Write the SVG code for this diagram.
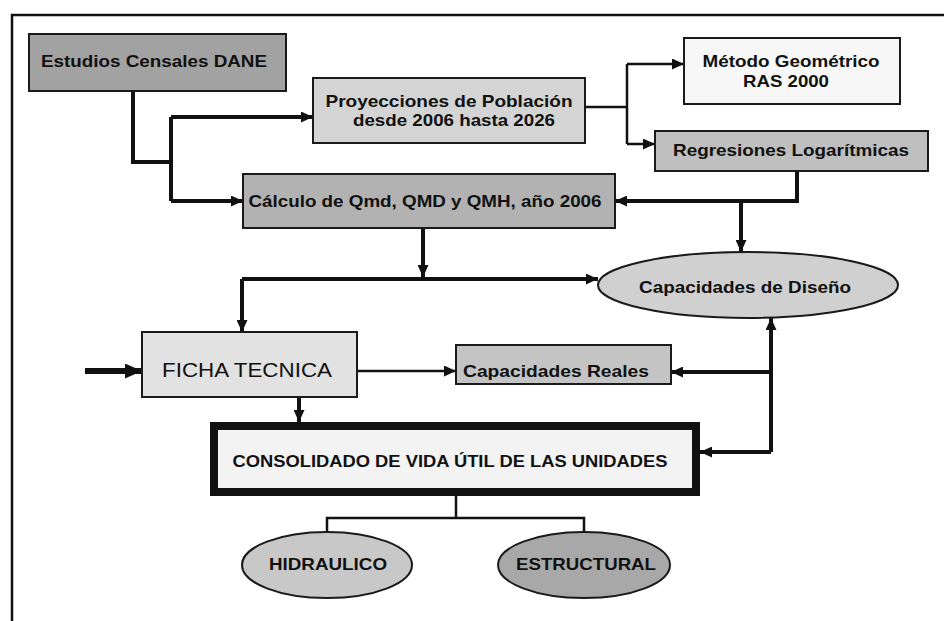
<svg xmlns="http://www.w3.org/2000/svg" width="944" height="621" viewBox="0 0 944 621">
<style>
.t{font-family:"Liberation Sans",Arial,sans-serif;font-weight:bold;font-size:16.5px;fill:#111;text-anchor:middle}
.b{stroke:#1a1a1a;stroke-width:2}
.c{fill:none;stroke:#111;stroke-linejoin:miter}
.w4{stroke-width:4}
.w2{stroke-width:2.5}
</style>
<defs>
<marker id="ah" viewBox="0 0 10 10" refX="10" refY="5" markerWidth="12" markerHeight="11" markerUnits="userSpaceOnUse" orient="auto" preserveAspectRatio="none"><path d="M0,0 L10,5 L0,10 Z" fill="#111"/></marker>
<marker id="ahb" viewBox="0 0 10 10" refX="10" refY="5" markerWidth="17" markerHeight="15" markerUnits="userSpaceOnUse" orient="auto" preserveAspectRatio="none"><path d="M0,0 L10,5 L0,10 Z" fill="#111"/></marker>
</defs>
<rect x="0" y="0" width="944" height="621" fill="#fff"/>
<rect x="12" y="15" width="1000" height="700" fill="none" stroke="#111" stroke-width="2.5"/>

<g id="connectors">
<path class="c w4" d="M133,91 V162 H171"/>
<path class="c w4" d="M171,117 V201"/>
<path class="c w4" d="M171,117 H313" marker-end="url(#ah)"/>
<path class="c w4" d="M171,201 H243" marker-end="url(#ah)"/>
<path class="c w2" d="M585,107 H627"/>
<path class="c w2" d="M627,64 V144"/>
<path class="c w2" d="M627,64 H684" marker-end="url(#ah)"/>
<path class="c w2" d="M627,144 H655" marker-end="url(#ah)"/>
<path class="c w4" d="M797,171 V201 H615" marker-end="url(#ah)"/>
<path class="c w4" d="M741,201 V252" marker-end="url(#ah)"/>
<path class="c w4" d="M423,228 V277" marker-end="url(#ah)"/>
<path class="c w4" d="M242,279 H598" marker-end="url(#ah)"/>
<path class="c w4" d="M242,279 V332" marker-end="url(#ah)"/>
<path class="c w2" d="M357,371 H456" marker-end="url(#ah)"/>
<path class="c" stroke-width="6" d="M85,371 H142" marker-end="url(#ahb)"/>
<path class="c w4" d="M299,397 V422" marker-end="url(#ah)"/>
<path class="c w4" d="M771,452 V318" marker-end="url(#ah)"/>
<path class="c w4" d="M771,372 H671" marker-end="url(#ah)"/>
<path class="c w4" d="M771,452 H700" marker-end="url(#ah)"/>
<path class="c w2" d="M456,496 V518 M327,532 V518 H584 V532"/>
</g>

<g id="dane">
<rect class="b" x="29" y="34" width="257" height="57" fill="#a2a2a2"/>
<text class="t" x="154" y="67" textLength="226" lengthAdjust="spacingAndGlyphs">Estudios Censales DANE</text>
</g>
<g id="proyecciones">
<rect class="b" x="313" y="78" width="272" height="65" fill="#d4d4d4"/>
<text class="t" x="449" y="107" textLength="247" lengthAdjust="spacingAndGlyphs">Proyecciones de Población</text>
<text class="t" x="454" y="126" textLength="202" lengthAdjust="spacingAndGlyphs">desde 2006 hasta 2026</text>
</g>
<g id="metodo">
<rect class="b" x="684" y="38" width="216" height="66" fill="#f7f7f7"/>
<text class="t" x="791" y="67" textLength="177" lengthAdjust="spacingAndGlyphs">Método Geométrico</text>
<text class="t" x="786" y="87" textLength="86" lengthAdjust="spacingAndGlyphs">RAS 2000</text>
</g>
<g id="regresiones">
<rect class="b" x="655" y="131" width="273" height="40" fill="#bfbfbf"/>
<text class="t" x="791" y="156" textLength="236" lengthAdjust="spacingAndGlyphs">Regresiones Logarítmicas</text>
</g>
<g id="calculo">
<rect class="b" x="243" y="174" width="372" height="54" fill="#b2b2b2"/>
<text class="t" x="425" y="207" textLength="353" lengthAdjust="spacingAndGlyphs">Cálculo de Qmd, QMD y QMH, año 2006</text>
</g>
<g id="capacidades-diseno">
<ellipse class="b" cx="748" cy="285" rx="150" ry="33" fill="#d0d0d0"/>
<text class="t" x="745" y="293" textLength="212" lengthAdjust="spacingAndGlyphs">Capacidades de Diseño</text>
</g>
<g id="ficha">
<rect class="b" x="142" y="332" width="215" height="65" fill="#e2e2e2"/>
<text class="t" x="247" y="377" style="font-weight:normal;font-size:20px" textLength="170" lengthAdjust="spacingAndGlyphs">FICHA TECNICA</text>
</g>
<g id="capacidades-reales">
<rect class="b" x="456" y="345" width="215" height="39" fill="#c4c4c4"/>
<text class="t" x="556" y="377" textLength="186" lengthAdjust="spacingAndGlyphs">Capacidades Reales</text>
</g>
<g id="consolidado">
<rect x="214" y="426" width="482" height="66" fill="#f3f3f3" stroke="#111" stroke-width="8"/>
<text class="t" x="450" y="467" textLength="435" lengthAdjust="spacingAndGlyphs">CONSOLIDADO DE VIDA ÚTIL DE LAS UNIDADES</text>
</g>
<g id="hidraulico">
<ellipse class="b" cx="327" cy="565" rx="85" ry="33" fill="#c8c8c8"/>
<text class="t" x="328" y="570" textLength="118" lengthAdjust="spacingAndGlyphs">HIDRAULICO</text>
</g>
<g id="estructural">
<ellipse class="b" cx="584" cy="565" rx="86" ry="33" fill="#a8a8a8"/>
<text class="t" x="586" y="570" textLength="140" lengthAdjust="spacingAndGlyphs">ESTRUCTURAL</text>
</g>
</svg>
